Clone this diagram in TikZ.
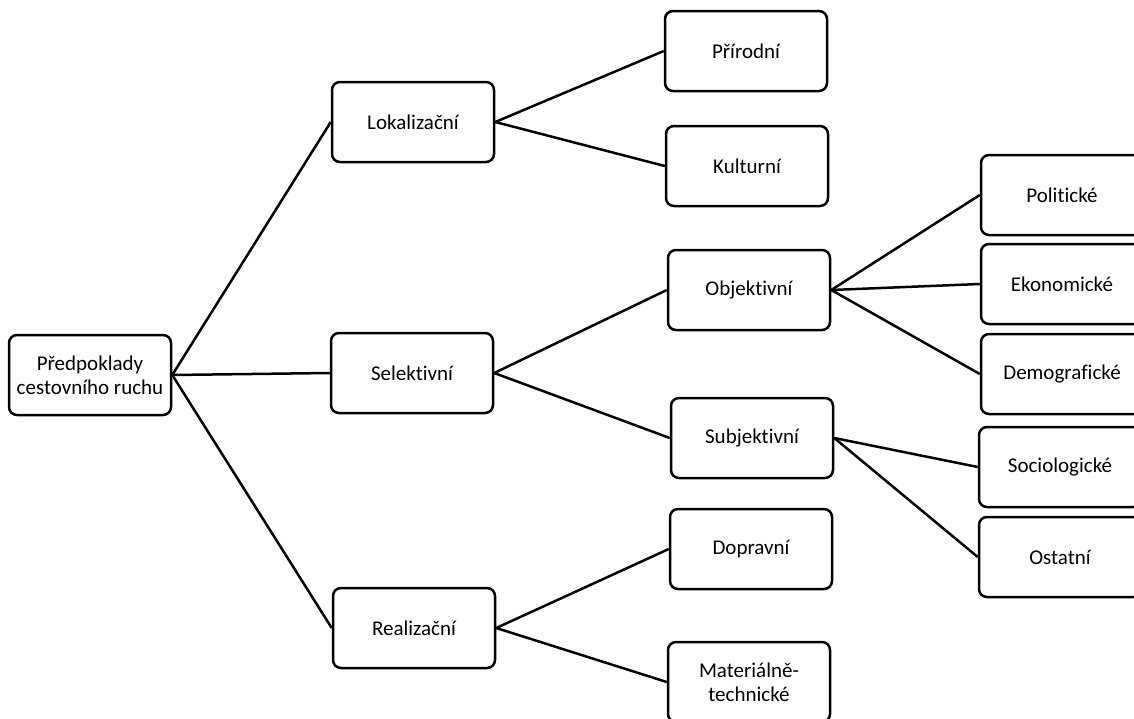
\documentclass[tikz,border=0pt]{standalone}
\usepackage{fontspec}
\setmainfont[Ligatures=NoCommon]{Carlito}
\begin{document}
\begin{tikzpicture}[x=1pt,y=-1pt,
  box/.style={draw=black, line width=2.5pt, rounded corners=8pt, fill=white,
    minimum width=162pt, minimum height=80pt, inner sep=0pt, align=center,
    font=\fontsize{21pt}{24pt}\selectfont},
  link/.style={draw=black, line width=2.5pt}]
\useasboundingbox (0,0) rectangle (1134,718);
\clip (0,0) rectangle (1134,718);
\node[box] (root) at (90,375) {Předpoklady\\cestovního ruchu};
\node[box] (lok) at (413,122) {Lokalizační};
\node[box] (sel) at (412,373) {Selektivní};
\node[box] (rea) at (414,628) {Realizační};
\node[box] (pri) at (746,51) {Přírodní};
\node[box] (kul) at (747,166) {Kulturní};
\node[box] (obj) at (749,290) {Objektivní};
\node[box] (sub) at (752,438) {Subjektivní};
\node[box] (dop) at (751,549) {Dopravní};
\node[box] (mat) at (749,682) {Materiálně-\\technické};
\node[box] (pol) at (1062,195) {Politické};
\node[box] (eko) at (1062,284) {Ekonomické};
\node[box] (dem) at (1062,374) {Demografické};
\node[box] (soc) at (1060,467) {Sociologické};
\node[box] (ost) at (1060,557) {Ostatní};
\draw[link] (root.east) -- (lok.west);
\draw[link] (root.east) -- (sel.west);
\draw[link] (root.east) -- (rea.west);
\draw[link] (lok.east) -- (pri.west);
\draw[link] (lok.east) -- (kul.west);
\draw[link] (sel.east) -- (obj.west);
\draw[link] (sel.east) -- (sub.west);
\draw[link] (rea.east) -- (dop.west);
\draw[link] (rea.east) -- (mat.west);
\draw[link] (obj.east) -- (pol.west);
\draw[link] (obj.east) -- (eko.west);
\draw[link] (obj.east) -- (dem.west);
\draw[link] (sub.east) -- (soc.west);
\draw[link] (sub.east) -- (ost.west);
\end{tikzpicture}
\end{document}
